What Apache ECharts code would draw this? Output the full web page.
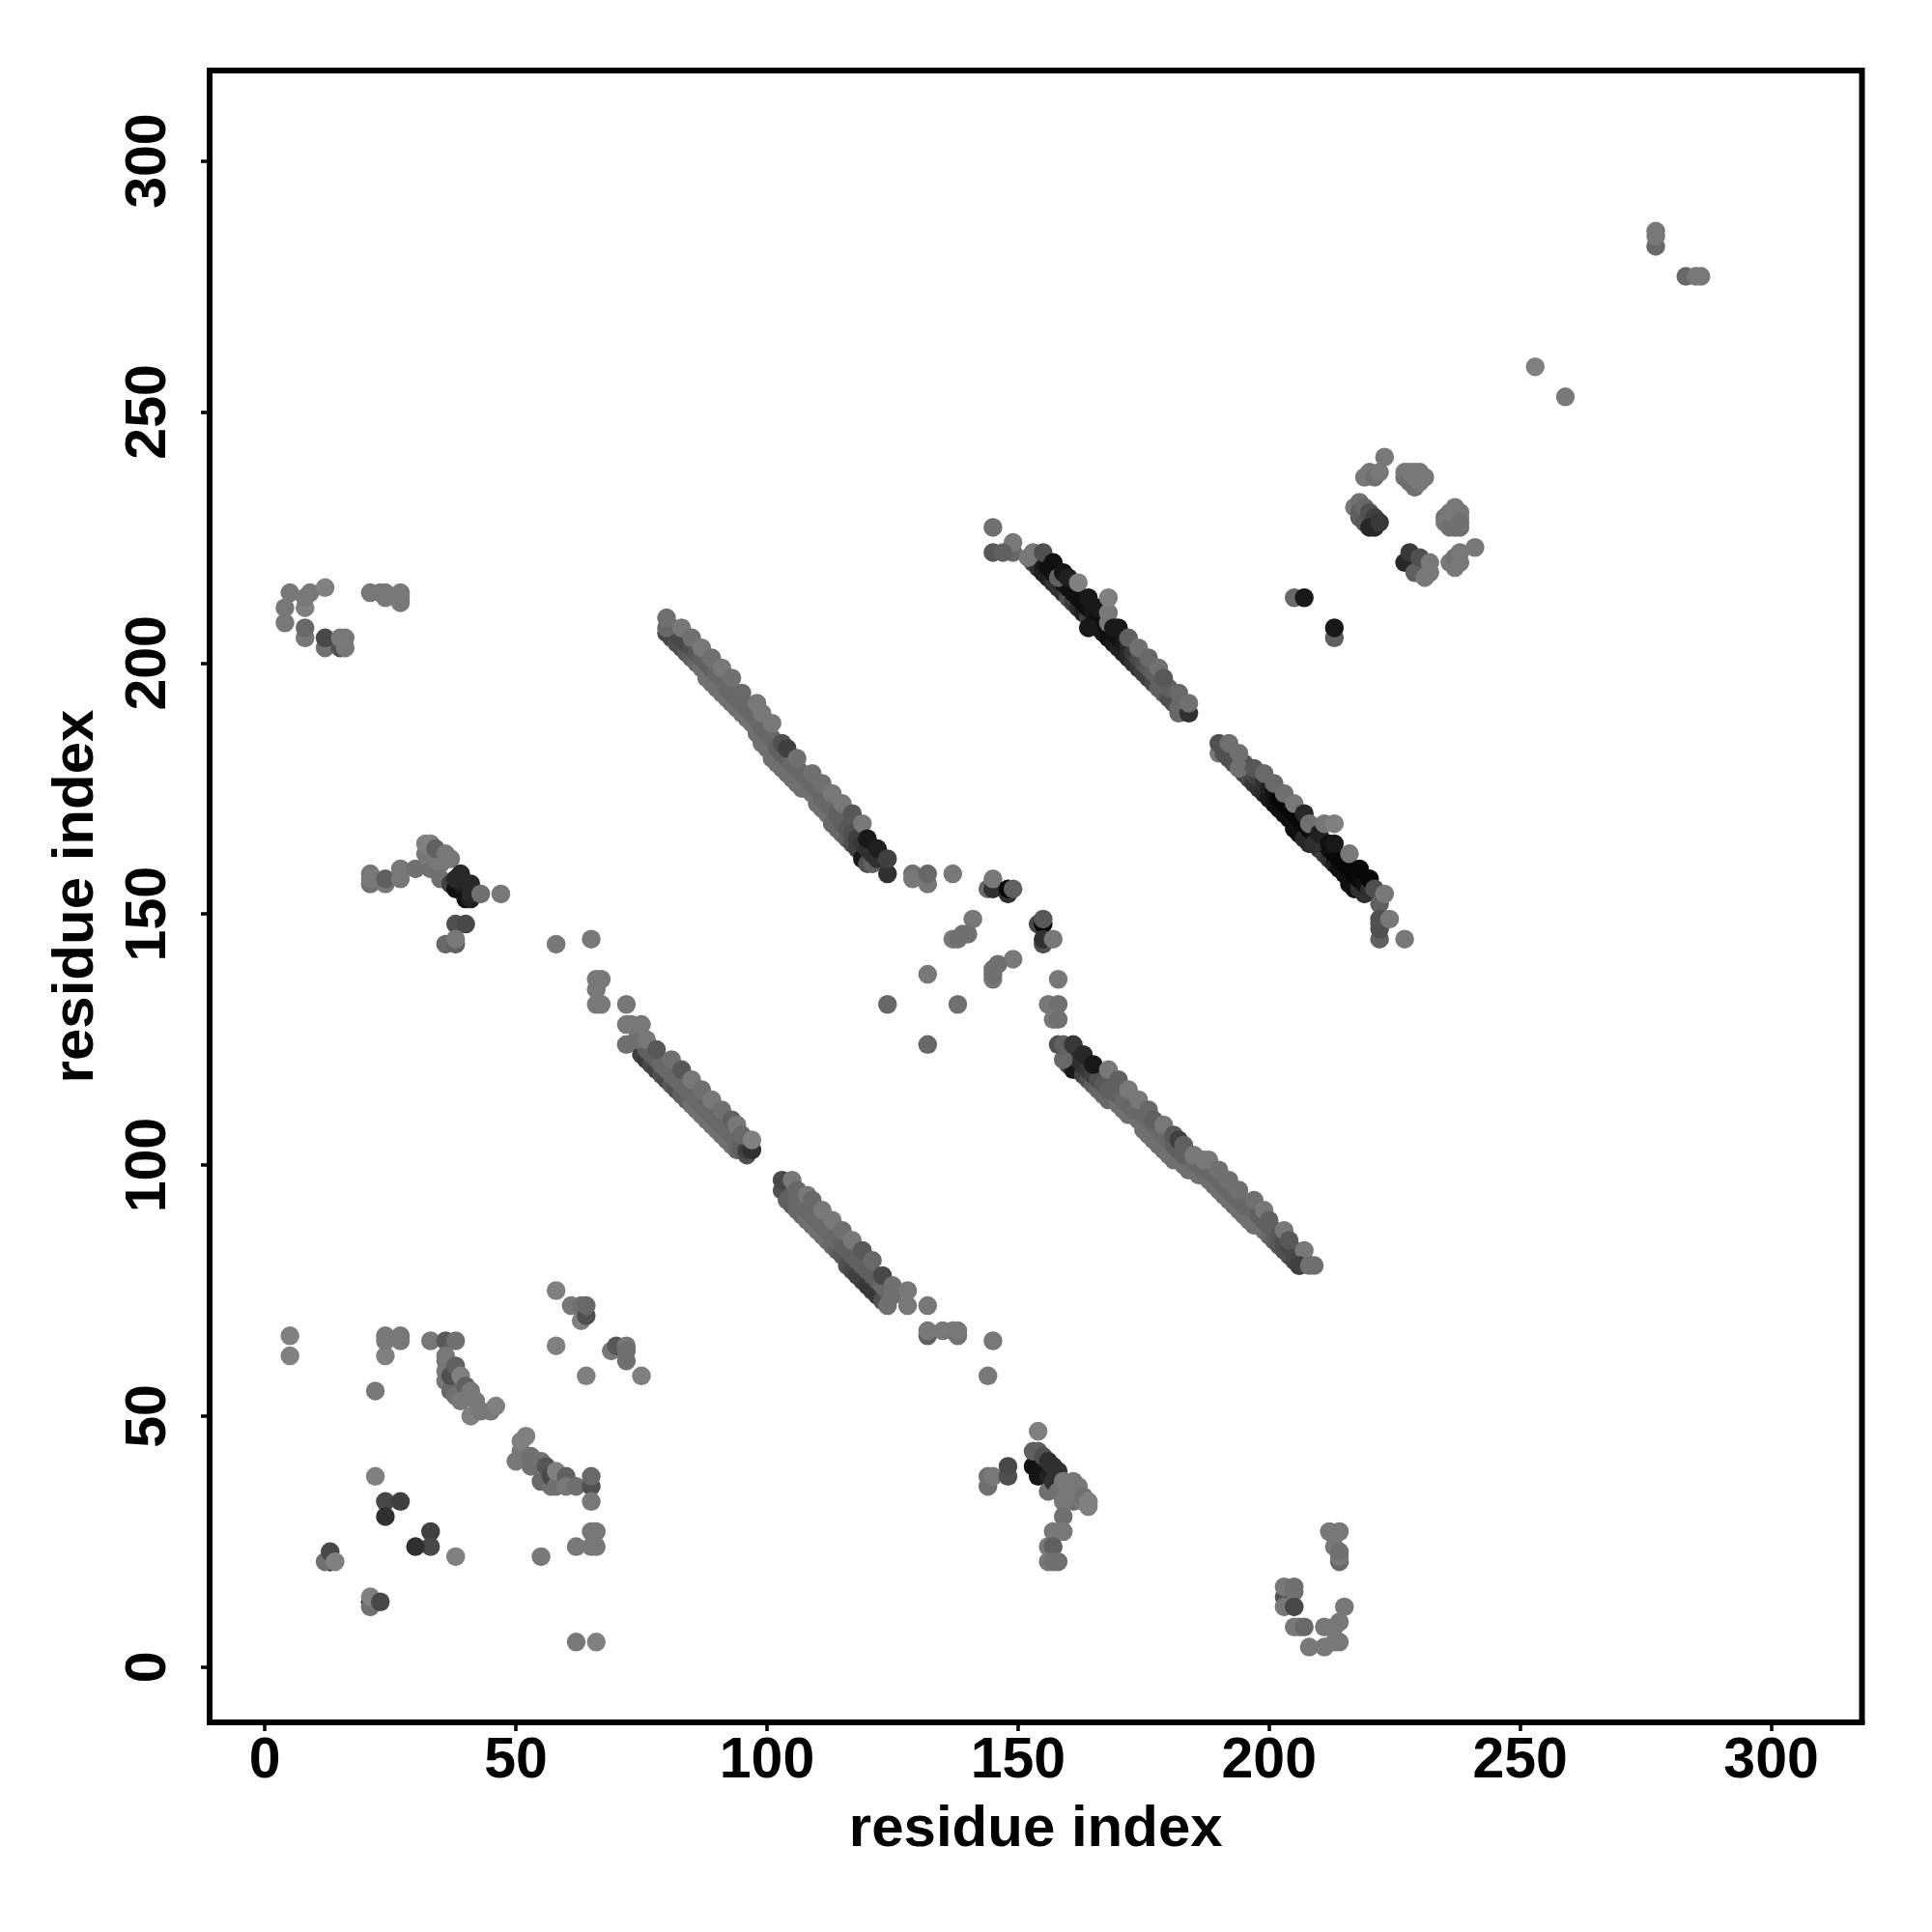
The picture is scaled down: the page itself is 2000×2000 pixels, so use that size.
<!DOCTYPE html>
<html>
<head>
<meta charset="utf-8">
<style>html,body{margin:0;padding:0;background:#fff}#c{width:2000px;height:2000px}</style>
<script src="https://cdn.jsdelivr.net/npm/echarts@6/dist/echarts.min.js"></script>
</head>
<body>
<div id="c"></div>
<script>
const tickValues = [0, 50, 100, 150, 200, 250, 300];
const axisTitle = 'residue index';

// each contact: [residue x, residue y, grey level]
const lowerLeft = [
[5,66,0x80],[5,62,0x80],[24,62,0x80],[24,66,0x78],[24,65,0x78],[27,66,0x78],[27,65,0x78],[22,55,0x78],
[22,38,0x80],[38,22,0x80],[33,27,0x40],[33,24,0x48],[30,24,0x30],[24,33,0x48],[27,33,0x40],[24,30,0x30],
[13,21,0x10],[12,21,0x70],[13,23,0x48],[14,21,0x80],[21,13,0x10],[21,12,0x70],[21,14,0x80],[23,13,0x48],
[62,5,0x78],[66,5,0x80],[55,22,0x78],[62,24,0x78],[65,24,0x78],[66,24,0x78],[65,27,0x78],[66,27,0x78]];
const hookLow = [
[33,65,0x78],[36,65,0x5a],[38,65,0x70],[36,62,0x78],[36,61,0x78],[36,59,0x78],[36,57,0x78],[37,55,0x68],[37,58,0x50],
[38,60,0x60],[38,54,0x70],[39,58,0x80],[40,56,0x60],[41,55,0x78],[39,53,0x78],[42,53,0x78],[41,50,0x80],[43,51,0x78],[45,51,0x78],[46,52,0x80],
[50,41,0x78],[51,43,0x78],[51,45,0x80],[52,46,0x80],[53,42,0x70],[53,40,0x70],[55,41,0x70],[55,37,0x68],[56,40,0x55],[57,36,0x70],[57,38,0x48],
[58,36,0x70],[58,39,0x80],[60,38,0x60],[60,36,0x78],[62,36,0x70],[65,36,0x50],[65,38,0x68],[65,33,0x78]];
const lowerMid = [
[58,75,0x80],[58,64,0x80],[61,72,0x78],[63,69,0x80],[63,72,0x70],[64,70,0x50],[64,72,0x68],[64,58,0x80],
[69,63,0x78],[70,64,0x58],[72,64,0x78],[72,63,0x70],[72,61,0x70],[75,58,0x80]];

const strandB1Low = [
[75,122,0x40],[76,121,0x38],[77,120,0x48],[78,119,0x40],[79,118,0x50],[80,117,0x48],[81,116,0x58],[82,115,0x50],[83,114,0x60],[84,113,0x60],[85,112,0x70],[86,111,0x70],[87,110,0x70],[88,109,0x70],[89,108,0x70],[90,107,0x70],[91,106,0x70],[92,105,0x70],[93,104,0x70],[94,103,0x68],[95,103,0x60],[96,102,0x50]];
const strandB1Mid = [
[76,123,0x60],[77,122,0x60],[78,121,0x60],[79,120,0x68],[80,119,0x68],[81,118,0x68],[82,117,0x68],[83,116,0x68],[84,115,0x68],[85,114,0x68],[86,113,0x68],[87,112,0x68],[88,111,0x68],[89,110,0x68],[90,109,0x68],[91,108,0x68],[92,107,0x68],[93,106,0x68],[94,105,0x68],[95,104,0x60],[96,103,0x40]];
const strandB1 = [
[72,124,0x70],[74,125,0x70],[76,125,0x78],[78,123,0x58],[81,121,0x70],[83,119,0x58],[85,117,0x78],[87,115,0x70],[89,113,0x78],[91,111,0x70],[93,109,0x60],[94,108,0x78],[95,106,0x68],[97,103,0x30],[97,105,0x80]];
const strandB2Low = [
[103,95,0x50],[104,93,0x60],[105,92,0x60],[106,91,0x68],[107,90,0x68],[108,89,0x70],[109,88,0x70],[110,87,0x70],[111,86,0x70],[112,85,0x70],[113,84,0x68],[114,83,0x60],[115,82,0x58],[116,80,0x50],[117,79,0x48],[118,78,0x40],[119,77,0x40],[120,76,0x38],[121,75,0x38],[122,74,0x38],[123,73,0x50]];
const strandB2Mid = [
[105,94,0x60],[106,93,0x68],[107,92,0x68],[108,91,0x68],[109,90,0x68],[110,89,0x68],[111,88,0x68],[112,87,0x68],[113,86,0x68],[114,85,0x68],[115,84,0x60],[116,83,0x60],[117,82,0x60],[118,81,0x60],[119,80,0x60],[120,79,0x60],[121,78,0x60],[122,77,0x60],[123,76,0x68],[124,75,0x68]];
const strandB2 = [
[103,97,0x48],[124,72,0x70],[105,97,0x78],[106,95,0x68],[108,94,0x78],[109,93,0x68],[111,91,0x78],[113,89,0x78],[115,87,0x70],[117,85,0x78],[119,83,0x58],[121,81,0x68],[123,78,0x48],[125,76,0x70],[125,74,0x70],
[128,72,0x78],[128,75,0x78],[132,72,0x78],[132,66,0x60],[132,67,0x78],[135,67,0x78],[137,67,0x78],[138,66,0x70],[138,67,0x78]];
const strandEnds = [
[72,132,0x78],[73,128,0x78],[72,128,0x78],[75,128,0x78],[58,144,0x78],[65,145,0x78],[66,137,0x78],[67,137,0x78],[66,135,0x78],[66,132,0x78],[67,132,0x78],
[145,65,0x78],[144,58,0x78]];

const strandALow = [
[80,206,0x48],[81,205,0x48],[82,204,0x50],[83,203,0x50],[84,202,0x58],[85,201,0x60],[86,200,0x68],[87,199,0x70],[88,197,0x70],[89,196,0x70],[90,195,0x70],[91,194,0x70],[92,193,0x70],[93,192,0x70],[94,191,0x70],[95,190,0x70],[96,189,0x70],[97,188,0x70],[98,186,0x70],[99,184,0x70],[100,183,0x70],[101,181,0x70],[102,180,0x70],[103,179,0x70],[104,178,0x70],[105,177,0x70],[106,176,0x70],[107,175,0x70],[108,175,0x70],[109,174,0x70],[110,172,0x70],[111,171,0x70],[112,170,0x70],[113,168,0x68],[114,167,0x68],[115,166,0x68],[116,165,0x60],[117,164,0x50],[118,163,0x40],[119,161,0x18],[120,160,0x50],[121,160,0x60]];
const strandAMid = [
[81,207,0x50],[82,206,0x48],[83,205,0x48],[84,204,0x48],[85,203,0x50],[86,202,0x58],[87,201,0x60],[88,200,0x60],[89,199,0x60],[90,198,0x68],[91,197,0x68],[92,195,0x68],[93,194,0x68],[94,193,0x68],[95,192,0x68],[96,191,0x68],[97,190,0x68],[98,189,0x68],[99,187,0x68],[100,186,0x68],[101,185,0x68],[102,183,0x60],[103,182,0x60],[104,181,0x60],[105,180,0x68],[106,179,0x68],[107,178,0x68],[108,177,0x68],[109,176,0x68],[110,175,0x68],[111,173,0x68],[112,172,0x68],[113,171,0x68],[114,170,0x60],[115,168,0x60],[116,167,0x58],[117,166,0x50],[118,165,0x40],[119,164,0x38],[120,163,0x30],[121,162,0x30],[122,161,0x30]];
const strandA = [
[80,207,0x68],[80,209,0x70],[83,207,0x78],[85,205,0x70],[87,203,0x78],[89,201,0x70],[91,199,0x78],[93,197,0x70],[95,194,0x68],[98,192,0x78],[99,190,0x78],[101,188,0x78],[103,184,0x50],[104,183,0x40],[106,181,0x70],[109,178,0x70],[111,176,0x70],[113,174,0x78],[115,172,0x78],[117,170,0x58],[119,168,0x78],[120,165,0x18],[122,163,0x20],[124,158,0x30],[124,161,0x40]];
const strandAEnd = [[129,158,0x70],[129,157,0x78],[132,156,0x78],[132,158,0x68],[137,158,0x78]];
const middle = [
[132,138,0x78],[124,132,0x68],[138,132,0x70],[132,124,0x68],[141,149,0x78],[137,145,0x78],[138,145,0x70],[139,146,0x70],[140,146,0x70],
[149,141,0x78],[145,137,0x78],[145,138,0x70],[145,139,0x70],[146,140,0x70],[144,155,0x68],[145,155,0x30],[145,157,0x78],[148,154,0x30],[148,155,0x08],[149,155,0x60],
[154,148,0x48],[155,148,0x05],[155,149,0x58],[155,144,0x50],[155,145,0x30],[157,145,0x78],[158,137,0x78],[156,132,0x78],[158,132,0x70],[157,129,0x78],[158,129,0x70]];

const strandDLow = [
[160,121,0x60],[160,120,0x50],[161,119,0x18],[163,118,0x40],[164,117,0x50],[165,116,0x60],[166,115,0x68],[167,114,0x68],[168,113,0x68],[170,112,0x70],[171,111,0x70],[172,110,0x70],[174,109,0x70],[175,108,0x70],[175,107,0x70],[176,106,0x70],[177,105,0x70],[178,104,0x70],[179,103,0x70],[180,102,0x70],[181,101,0x70],[183,100,0x70],[184,99,0x70],[186,98,0x70],[188,97,0x70],[189,96,0x70],[190,95,0x70],[191,94,0x70],[192,93,0x70],[193,92,0x70],[194,91,0x70],[195,90,0x70],[196,89,0x70],[197,88,0x70],[199,87,0x70],[200,86,0x68],[201,85,0x60],[202,84,0x58],[203,83,0x50],[204,82,0x50],[205,81,0x48],[206,80,0x48]];
const strandDMid = [
[161,122,0x30],[162,121,0x30],[163,120,0x30],[164,119,0x38],[165,118,0x40],[166,117,0x50],[167,116,0x58],[168,115,0x60],[170,114,0x60],[171,113,0x68],[172,112,0x68],[173,111,0x68],[175,110,0x68],[176,109,0x68],[177,108,0x68],[178,107,0x68],[179,106,0x68],[180,105,0x68],[181,104,0x60],[182,103,0x60],[183,102,0x60],[185,101,0x68],[186,100,0x68],[187,99,0x68],[189,98,0x68],[190,97,0x68],[191,96,0x68],[192,95,0x68],[193,94,0x68],[194,93,0x68],[195,92,0x68],[197,91,0x68],[198,90,0x60],[199,89,0x60],[200,88,0x60],[201,87,0x60],[202,86,0x58],[203,85,0x50],[204,84,0x48],[205,83,0x48],[206,82,0x48],[207,81,0x50]];
const strandD = [
[159,121,0x68],[158,124,0x50],[159,124,0x60],[161,124,0x38],[163,122,0x28],[165,120,0x18],[168,119,0x78],[170,117,0x60],[172,115,0x78],[174,113,0x78],[176,111,0x68],[177,109,0x60],[179,108,0x78],
[181,106,0x58],[182,105,0x40],[183,104,0x60],[185,102,0x78],[187,101,0x78],[188,101,0x78],[190,99,0x70],[192,97,0x70],[194,95,0x70],[197,93,0x70],
[199,91,0x78],[200,89,0x60],[203,87,0x78],[204,85,0x58],[207,83,0x78],[206,80,0x40],[208,80,0x70],[209,80,0x70]];

const strandC1Low = [
[153,220,0x48],[154,219,0x30],[155,218,0x20],[156,217,0x20],[157,216,0x30],[158,215,0x30],[159,214,0x30],[160,213,0x50],[161,212,0x40],[162,211,0x30],[163,210,0x20],[164,209,0x40],[165,208,0x20],[166,207,0x18],[167,206,0x18],[168,205,0x10],[169,204,0x18],[170,203,0x20],[171,202,0x20],[172,201,0x28],[173,200,0x30],[174,199,0x38],[175,198,0x40],[176,197,0x40],[177,196,0x48],[178,195,0x60],[179,194,0x60],[180,193,0x50],[181,192,0x50],[182,191,0x68]];
const strandC1Core = [
[155,220,0x18],[156,219,0x10],[157,218,0x10],[158,217,0x10],[159,216,0x10],[160,215,0x10],[161,214,0x10],[162,213,0x10],[163,212,0x10],[164,211,0x10],[165,210,0x18],[166,209,0x10],[167,208,0x10],[168,207,0x10],[169,206,0x10],[170,205,0x10],[171,204,0x18],[172,203,0x28],[173,202,0x38],[174,201,0x48],[175,200,0x50],[176,199,0x58],[177,198,0x60],[178,197,0x60],[179,196,0x60],[180,195,0x60]];
const strandC1 = [
[149,222,0x68],[149,224,0x78],[145,227,0x70],[145,222,0x58],[147,222,0x60],[152,221,0x78],[153,222,0x78],[155,222,0x50],[157,220,0x10],[158,217,0x60],[159,218,0x15],[160,217,0x20],[162,216,0x80],[164,213,0x18],
[164,207,0x18],[166,211,0x18],[168,208,0x78],[168,210,0x78],[168,213,0x80],[169,207,0x18],[170,207,0x18],[172,205,0x60],[174,203,0x70],[176,201,0x68],[178,199,0x70],[179,197,0x58],[182,194,0x68],[182,190,0x68],[184,190,0x30],[184,192,0x70]];
const strandC2Low = [
[192,181,0x50],[193,180,0x50],[194,179,0x50],[195,178,0x48],[196,177,0x48],[197,176,0x38],[198,175,0x30],[199,174,0x28],[200,173,0x18],[201,172,0x10],[202,171,0x10],[203,170,0x10],[204,169,0x10],[205,167,0x10],[206,166,0x10],[207,165,0x28],[208,164,0x28],[209,164,0x30],[210,163,0x30],[211,162,0x40],[212,161,0x30],[213,160,0x20],[214,159,0x10],[215,158,0x10],[216,156,0x10],[217,155,0x10],[218,155,0x30],[219,154,0x30]];
const strandC2Core = [
[195,180,0x58],[196,179,0x50],[197,178,0x48],[198,177,0x40],[199,176,0x30],[200,175,0x20],[201,174,0x10],[202,173,0x08],[203,172,0x08],[204,171,0x08],[205,170,0x08],[206,169,0x08],[207,168,0x08],[208,167,0x08],[209,166,0x10],[210,165,0x10],[211,164,0x10],[212,163,0x10],[213,162,0x08],[214,161,0x08],[215,160,0x08],[216,159,0x08],[217,158,0x08],[218,157,0x08],[219,156,0x10],[220,155,0x30]];
const strandC2 = [
[190,182,0x78],[190,184,0x50],[191,182,0x50],[192,184,0x70],[194,179,0x70],[194,182,0x70],[197,179,0x58],[199,178,0x68],[201,176,0x68],[203,174,0x70],[205,172,0x78],[207,170,0x28],[209,164,0x30],
[208,168,0x70],[210,166,0x20],[211,168,0x78],[213,168,0x80],[212,164,0x10],[213,164,0x18],[216,162,0x78],[218,159,0x08],[220,157,0x08],[221,155,0x50],[222,152,0x60],[223,154,0x78],
[222,145,0x60],[222,147,0x50],[222,148,0x50],[222,149,0x50],[224,149,0x78],[227,145,0x78]];
const upperRight = [
[205,213,0x68],[207,213,0x18],[213,205,0x60],[213,207,0x18],
[223,241,0x78],[219,237,0x78],[220,238,0x78],[221,237,0x70],[222,238,0x78],[227,237,0x70],[227,238,0x78],[228,236,0x70],[228,237,0x70],[228,238,0x78],[229,235,0x70],[229,236,0x70],[229,237,0x78],[229,238,0x78],[230,236,0x78],[230,238,0x78],[231,237,0x78],
[217,231,0x78],[218,232,0x70],[218,230,0x60],[218,229,0x60],[219,231,0x68],[219,228,0x58],[220,230,0x50],[221,229,0x40],[220,227,0x28],[221,227,0x28],[222,228,0x38],
[235,229,0x70],[235,228,0x78],[236,230,0x78],[236,227,0x70],[237,231,0x78],[237,229,0x78],[237,227,0x70],[238,230,0x78],[238,229,0x78],[238,228,0x70],[238,227,0x70],[241,223,0x78],[237,219,0x78],[236,220,0x78],[237,221,0x70],[238,220,0x78],[238,222,0x78],
[227,220,0x28],[228,222,0x38],[229,218,0x60],[230,221,0x50],[231,217,0x78],[232,218,0x78],[232,220,0x78],
[277,283,0x68],[277,285,0x78],[277,286,0x78],[283,277,0x68],[285,277,0x78],[286,277,0x78],[253,259,0x80],[259,253,0x78]];
const bottomRight = [
[144,36,0x70],[144,38,0x70],[145,38,0x78],[148,38,0x50],[148,40,0x48],[154,47,0x80],[153,40,0x10],[153,43,0x60],[154,38,0x15],[154,43,0x60],[155,39,0x15],[155,42,0x50],[156,38,0x20],[156,41,0x30],[156,35,0x70],[157,37,0x30],[157,40,0x30],[158,37,0x30],[158,39,0x30],[158,35,0x70],
[159,35,0x70],[159,37,0x78],[160,36,0x78],[160,34,0x78],[161,35,0x78],[161,37,0x78],[161,33,0x70],[162,34,0x78],[162,36,0x78],[159,33,0x78],[163,33,0x78],[163,34,0x70],[164,32,0x80],[164,33,0x80],[159,30,0x70],[157,27,0x78],[159,27,0x78],[156,24,0x78],[157,24,0x60],[156,21,0x78],[157,21,0x70],[158,21,0x70],
[203,14,0x50],[203,16,0x78],[205,15,0x70],[205,16,0x70],[203,12,0x78],[205,12,0x48],[205,8,0x78],[206,8,0x78],[207,8,0x68],[211,8,0x78],[213,8,0x78],[214,9,0x78],[215,12,0x78],
[208,4,0x78],[211,4,0x78],[213,5,0x78],[214,5,0x78],[212,27,0x78],[214,27,0x78],[213,24,0x78],[214,21,0x68],[214,22,0x78],[214,23,0x70]];
const upperLeft = [
[5,214,0x78],[4,211,0x78],[4,208,0x78],[8,211,0x80],[8,213,0x78],[9,214,0x78],[12,215,0x80],[8,205,0x78],[8,207,0x68],[12,203,0x70],[12,205,0x48],[15,203,0x50],[15,205,0x78],[16,203,0x78],[16,205,0x78],
[21,214,0x78],[23,214,0x78],[24,213,0x78],[24,214,0x78],[27,212,0x78],[27,213,0x78],[27,214,0x78],
[21,156,0x70],[21,157,0x78],[21,158,0x78],[24,156,0x78],[24,157,0x60],[27,157,0x78],[27,159,0x78],[30,159,0x70],[33,159,0x70],[34,161,0x78],[35,160,0x78],[35,157,0x70],[37,156,0x40],[32,162,0x78],[32,164,0x80],[33,164,0x80],[34,163,0x60],
[36,162,0x78],[37,161,0x78],[38,155,0x10],[39,156,0x18],[40,155,0x20],[38,157,0x28],[39,158,0x28],[40,153,0x10],[41,153,0x20],[41,154,0x28],[41,156,0x28],[43,154,0x70],[47,154,0x78],[38,148,0x50],[40,148,0x48],[36,144,0x68],[38,144,0x60],[38,145,0x78]];

const groups = [lowerLeft, hookLow, lowerMid, strandB1Low, strandB1Mid, strandB1, strandB2Low, strandB2Mid, strandB2, strandEnds,
  strandALow, strandAMid, strandA, strandAEnd, middle, strandDLow, strandDMid, strandD, strandC1Low, strandC1Core, strandC1, strandC2Low, strandC2Core, strandC2, upperRight, bottomRight, upperLeft];

const font = {fontFamily: '"Liberation Sans", Arial, sans-serif', fontWeight: 'bold', fontSize: 59, color: '#000'};
const axisBase = (max, nameGap, rotate, margin) => ({
  type: 'value', min: -11, max, name: axisTitle, nameLocation: 'middle', nameGap,
  nameTextStyle: Object.assign({}, font, {fontSize: 60}), splitLine: {show: false},
  axisLine: {show: true, onZero: false, lineStyle: {color: '#000', width: 6}},
  axisTick: {show: true, length: 9, lineStyle: {color: '#000', width: 3.5}, customValues: tickValues},
  axisLabel: Object.assign({}, font, {rotate, margin, customValues: tickValues, formatter: v => String(v), hideOverlap: false})
});

const chart = echarts.init(document.getElementById('c'), null, {renderer: 'canvas', width: 2000, height: 2000});
chart.setOption({
  animation: false, backgroundColor: '#fff',
  grid: {left: 217, right: 72.5, top: 73, bottom: 217, show: true, borderColor: '#000', borderWidth: 6, backgroundColor: 'transparent'},
  xAxis: axisBase(318.07, 81, 0, 11),
  yAxis: axisBase(318.0, 108, 90, 33),
  series: groups.map(g => ({
    type: 'scatter', symbol: 'circle', symbolSize: 19.5, clip: false, silent: true,
    data: g,
    itemStyle: {opacity: 1, color: p => { const v = p.data[2]; return 'rgb(' + v + ',' + v + ',' + v + ')'; }}
  }))
});
</script>
</body>
</html>
